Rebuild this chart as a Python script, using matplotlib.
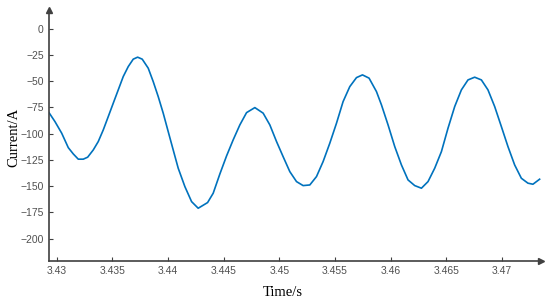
import numpy as np
import matplotlib
matplotlib.use("Agg")
import matplotlib.pyplot as plt

# values
time = [3.429246, 3.429847, 3.430449, 3.431041, 3.431490, 3.431939, 3.432388, 3.432783,
        3.433285, 3.433734, 3.434183, 3.434632, 3.435081, 3.435530, 3.435978, 3.436427,
        3.436876, 3.437271, 3.437684, 3.438223, 3.438671, 3.439120, 3.439569, 3.440018,
        3.440467, 3.440916, 3.441517, 3.442118, 3.442711, 3.443555, 3.444058, 3.444659,
        3.445260, 3.445853, 3.446454, 3.447056, 3.447801, 3.448546, 3.449147, 3.449749,
        3.450341, 3.450943, 3.451544, 3.452137, 3.452738, 3.453339, 3.453932, 3.454533,
        3.455135, 3.455727, 3.456329, 3.456930, 3.457469, 3.458061, 3.458725, 3.459174,
        3.459767, 3.460368, 3.460969, 3.461562, 3.462163, 3.462765, 3.463357, 3.463959,
        3.464560, 3.465152, 3.465754, 3.466355, 3.466948, 3.467549, 3.468151, 3.468743,
        3.469345, 3.469946, 3.470539, 3.471140, 3.471741, 3.472334, 3.472783, 3.473384]
current = [-78.9, -88.5, -99.5, -113.3, -119.3, -124.3, -124.3, -122.4,
           -115.5, -107.5, -96.4, -83.7, -70.9, -58.2, -45.5, -36.0,
           -28.9, -27.0, -28.9, -37.5, -50.3, -64.6, -80.4, -98.0,
           -115.5, -132.9, -150.5, -164.8, -171.1, -165.7, -156.8, -138.4,
           -121.2, -105.9, -91.6, -79.9, -75.1, -80.4, -91.6, -107.5,
           -121.9, -136.2, -145.7, -149.5, -148.9, -140.9, -126.6, -109.1,
           -90.0, -69.4, -55.1, -46.5, -43.9, -47.0, -59.8, -72.5,
           -91.6, -112.3, -129.8, -144.1, -149.5, -152.0, -145.7, -132.9,
           -117.1, -94.8, -74.1, -58.2, -48.7, -46.1, -48.7, -58.2,
           -74.1, -93.2, -112.3, -129.8, -142.5, -147.2, -148.2, -143.4]

xticks = [3.43, 3.435, 3.44, 3.445, 3.45, 3.455, 3.46, 3.465, 3.47]
xtick_labels = ["3.43", "3.435", "3.44", "3.445", "3.45", "3.455", "3.46", "3.465", "3.47"]
yticks = [0, -25, -50, -75, -100, -125, -150, -175, -200]

fig = plt.figure(figsize=(5.5, 3.03), dpi=100)
ax = fig.add_axes([0.0885, 0.137, 0.895, 0.83])

ax.plot(time, current, color="#0072BD", lw=1.2)

ax.set_xlim(3.42928, 3.4735)
ax.set_ylim(-221.9, 18)
ax.set_xticks(xticks)
ax.set_xticklabels(xtick_labels)
ax.set_yticks(yticks)

axis_col = "#404040"
for s in ["top", "right"]:
    ax.spines[s].set_visible(False)
for s in ["left", "bottom"]:
    ax.spines[s].set_color(axis_col)
    ax.spines[s].set_linewidth(1.2)

ax.tick_params(direction="in", length=3, width=0.8, color=axis_col,
               labelsize=7.5, labelcolor="#505050")
for lab in ax.get_xticklabels() + ax.get_yticklabels():
    lab.set_family("Liberation Sans")

# arrow heads on the axes
ax.plot(1, 0, ">", color=axis_col, ms=5, transform=ax.transAxes, clip_on=False)
ax.plot(0, 1, "^", color=axis_col, ms=5, transform=ax.transAxes, clip_on=False)

ax.set_xlabel("Time/s", family="Liberation Serif", fontsize=10.5)
ax.set_ylabel("Current/A", family="Liberation Serif", fontsize=10.5)
ax.xaxis.set_label_coords(0.476, -0.099)
ax.yaxis.set_label_coords(-0.058, 0.495)

fig.savefig("out.png", dpi=100)
